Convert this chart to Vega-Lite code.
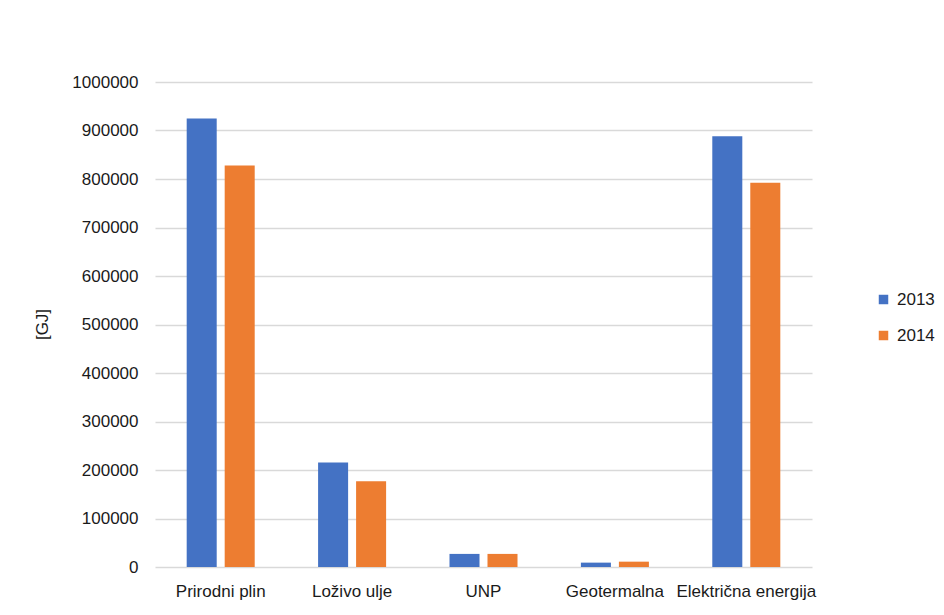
{
  "$schema": "https://vega.github.io/schema/vega-lite/v6.json",
  "width": 657,
  "height": 485,
  "autosize": {"type": "none"},
  "padding": {"left": 155, "top": 82, "right": 132, "bottom": 48},
  "background": "white",
  "config": {
    "font": "Liberation Sans",
    "view": {"stroke": null}
  },
  "data": {
    "values": [
      {"kategorija": "Prirodni plin", "godina": "2013", "vrijednost": 924500},
      {"kategorija": "Prirodni plin", "godina": "2014", "vrijednost": 828000},
      {"kategorija": "Loživo ulje", "godina": "2013", "vrijednost": 215500},
      {"kategorija": "Loživo ulje", "godina": "2014", "vrijednost": 177000},
      {"kategorija": "UNP", "godina": "2013", "vrijednost": 27000},
      {"kategorija": "UNP", "godina": "2014", "vrijednost": 27000},
      {"kategorija": "Geotermalna", "godina": "2013", "vrijednost": 9000},
      {"kategorija": "Geotermalna", "godina": "2014", "vrijednost": 11000},
      {"kategorija": "Električna energija", "godina": "2013", "vrijednost": 888000},
      {"kategorija": "Električna energija", "godina": "2014", "vrijednost": 792500}
    ]
  },
  "mark": {"type": "bar"},
  "encoding": {
    "x": {
      "field": "kategorija",
      "type": "nominal",
      "sort": null,
      "scale": {"paddingInner": 0, "paddingOuter": 0},
      "axis": {
        "title": null,
        "labelAngle": 0,
        "labelFontSize": 17,
        "labelColor": "#1a1a1a",
        "labelPadding": 16,
        "labelOverlap": false,
        "labelLimit": 300,
        "ticks": false,
        "domain": false
      }
    },
    "xOffset": {
      "field": "godina",
      "type": "nominal",
      "scale": {"paddingInner": 0.21, "paddingOuter": 0.834}
    },
    "y": {
      "field": "vrijednost",
      "type": "quantitative",
      "scale": {"domain": [0, 1000000]},
      "axis": {
        "title": "[GJ]",
        "titleFontSize": 17,
        "titleFontWeight": "normal",
        "titleColor": "#1a1a1a",
        "titleX": -113,
        "titleY": 242,
        "titleAlign": "center",
        "titleBaseline": "middle",
        "values": [0, 100000, 200000, 300000, 400000, 500000, 600000, 700000, 800000, 900000, 1000000],
        "format": "d",
        "labelFontSize": 17,
        "labelColor": "#1a1a1a",
        "labelPadding": 17,
        "ticks": false,
        "domain": false,
        "grid": true,
        "gridColor": "#d9d9d9",
        "gridWidth": 1.5
      }
    },
    "color": {
      "field": "godina",
      "type": "nominal",
      "scale": {"domain": ["2013", "2014"], "range": ["#4472C4", "#ED7D31"]},
      "legend": {
        "title": null,
        "orient": "none",
        "legendX": 720,
        "legendY": 209,
        "symbolType": "square",
        "symbolSize": 90,
        "symbolStrokeWidth": 0,
        "labelFontSize": 17,
        "labelColor": "#1a1a1a",
        "labelOffset": 5,
        "rowPadding": 18
      }
    }
  }
}
